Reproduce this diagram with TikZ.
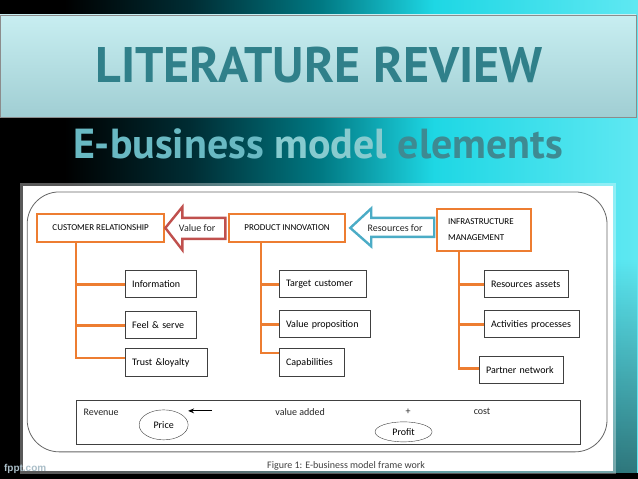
\documentclass[tikz,border=0pt]{standalone}
\usepackage{fontspec}
\setmainfont{Carlito}
\newfontfamily\headfont{PT Sans}
\newfontfamily\markfont{Liberation Sans}
\usepackage{xcolor}
\definecolor{boxorange}{RGB}{237,125,49}
\definecolor{arrred}{RGB}{192,80,77}
\definecolor{arrblue}{RGB}{75,172,198}
\definecolor{headteal}{RGB}{48,128,138}
\definecolor{subA}{RGB}{105,185,195}
\definecolor{subB}{RGB}{135,203,207}
\definecolor{subC}{RGB}{62,138,146}
\definecolor{bgdark}{RGB}{0,45,52}
\definecolor{bgteal}{RGB}{0,120,130}
\definecolor{bgcyan}{RGB}{30,215,228}
\definecolor{bglight}{RGB}{95,232,242}
\usetikzlibrary{arrows.meta,positioning,calc,shapes.geometric,fadings}
\pgfdeclarehorizontalshading{slidebg}{100bp}{color(0bp)=(black); color(25bp)=(black); color(30bp)=(black); color(40bp)=(bgdark); color(50bp)=(bgteal); color(59bp)=(bgcyan); color(75bp)=(bglight); color(100bp)=(bglight)}
\tikzfading[name=fadedown,top color=transparent!100,bottom color=transparent!0]

\begin{document}
\begin{tikzpicture}[x=1pt,y=-1pt,
  mainbox/.style={draw=boxorange,line width=2.4pt,fill=white,inner sep=0pt,font=\fontsize{9}{12}\selectfont},
  subbox/.style={draw=black!75,line width=0.9pt,fill=white,inner xsep=7pt,inner ysep=0pt,align=left,font=\fontsize{10}{12}\selectfont},
  branch/.style={boxorange,line width=2.4pt},
  oval/.style={draw=black!75,ellipse,inner sep=0pt,font=\fontsize{10}{12}\selectfont},
  plain/.style={font=\fontsize{10}{12}\selectfont,text=black!85}]
  % Background
  \shade[shading=slidebg] (0,0) rectangle (638,479);
  \fill[black,opacity=0.5,path fading=fadedown] (0,260) rectangle (638,479);
  \fill[black] (0,473) rectangle (638,479);
  % Title banner
  \shade[top color={rgb,255:red,200;green,238;blue,241},bottom color={rgb,255:red,160;green,206;blue,211},draw=black!45] (0,15) rectangle (636,117);
  \node[anchor=base,text=headteal,font=\headfont\bfseries\fontsize{50}{54}\selectfont] (title) at (319,83) {LITERATURE REVIEW};
  \node[anchor=base,font=\headfont\bfseries\fontsize{42}{46}\selectfont] (subtitle) at (318,159)
    {\textcolor{subA}{E-business} \textcolor{subB}{model} \textcolor{subC}{elements}};
  % White panel
  \draw[white,opacity=0.35,line width=6pt] (23,186) rectangle (613,471);
  \fill[white] (23,186) rectangle (613,471);
  \draw[black!60,line width=0.8pt,rounded corners=32] (27,192) rectangle (607,452);
  % Main elements
  \node[mainbox,minimum width=127,minimum height=28] (cr) at (100.5,228) {CUSTOMER RELATIONSHIP};
  \node[mainbox,minimum width=116,minimum height=28] (pi) at (287,228) {PRODUCT INNOVATION};
  \node[mainbox,minimum width=94,minimum height=42,text width=72,align=left,font=\fontsize{9}{16}\selectfont] (im) at (484,230) {INFRASTRUCTURE\\MANAGEMENT};
  % Block arrows
  \draw[arrred,line width=2.4pt,fill=white,line join=miter] (cr.east) -- ++(17,-21) -- ++(0,11) -- ++(43,0) -- ++(0,21) -- ++(-43,0) -- ++(0,11) -- cycle;
  \node[plain] (valuefor) at (197,228) {Value for};
  \draw[arrblue,line width=2.4pt,fill=white,line join=miter] ($(pi.east)+(4,0)$) -- ++(21,-19.5) -- ++(0,9.5) -- ++(63,0) -- ++(0,19) -- ++(-63,0) -- ++(0,9.5) -- cycle;
  \node[plain] (resfor) at (395,228) {Resources for};
  % Customer relationship items
  \node[subbox,minimum height=27,text width=57] (info) at (160.5,284.5) {Information};
  \node[subbox,minimum height=27,text width=57] (feel) at (160.5,325.5) {Feel \& serve};
  \node[subbox,minimum height=28,text width=68] (trust) at (166,363) {Trust \&loyalty};
  \draw[branch] ([xshift=40pt]cr.south west) |- (info.west);
  \draw[branch] ([xshift=40pt]cr.south west) |- (feel.west);
  \draw[branch] ([xshift=40pt]cr.south west) |- ([yshift=5pt]trust.west);
  % Product innovation items
  \node[subbox,minimum height=27,text width=73] (target) at (322.5,284.5) {Target customer};
  \node[subbox,minimum height=27,text width=77] (valprop) at (324.5,324.5) {Value proposition};
  \node[subbox,minimum height=28,text width=51] (capab) at (311.5,363) {Capabilities};
  \draw[branch] ([xshift=33pt]pi.south west) |- (target.west);
  \draw[branch] ([xshift=33pt]pi.south west) |- (valprop.west);
  \draw[branch] ([xshift=33pt]pi.south west) |- ([yshift=10pt]capab.west);
  % Infrastructure items
  \node[subbox,minimum height=27,text width=70] (assets) at (526,284.5) {Resources assets};
  \node[subbox,minimum height=27,text width=81] (activ) at (531.5,324.5) {Activities processes};
  \node[subbox,minimum height=27,text width=70] (partner) at (521,370.5) {Partner network};
  \draw[branch] ([xshift=23pt]im.south west) |- (assets.west);
  \draw[branch] ([xshift=23pt]im.south west) |- (activ.west);
  \draw[branch] ([xshift=23pt]im.south west) |- ([yshift=2pt]partner.west);
  % Revenue and cost
  \node[draw=black!75,line width=0.9pt,minimum width=504,minimum height=44,inner sep=0pt] (revbox) at (328,423) {};
  \node[plain] (revenue) at (101,412) {Revenue};
  \node[oval,minimum width=49,minimum height=30] (price) at (163.5,425) {Price};
  \coordinate (arrtail) at (212,411);
  \coordinate (arrhead) at (188,411);
  \draw[black,line width=1pt,-{Stealth[length=6pt,width=5pt]}] (arrtail) -- (arrhead);
  \node[plain] (valadd) at (300,412) {value added};
  \node[plain] (plus) at (408,412) {+};
  \node[oval,minimum width=57,minimum height=20] (profit) at (403.5,432) {Profit};
  \node[plain] (cost) at (482,412) {cost};
  % Caption and mark
  \node[plain,text=black!75] (caption) at (346,466) {Figure 1: E-business model frame work};
  \node[font=\markfont\bfseries\fontsize{10}{12}\selectfont,text={rgb,255:red,170;green,190;blue,200}] (mark) at (25,469) {fppt.com};
\end{tikzpicture}
\end{document}
